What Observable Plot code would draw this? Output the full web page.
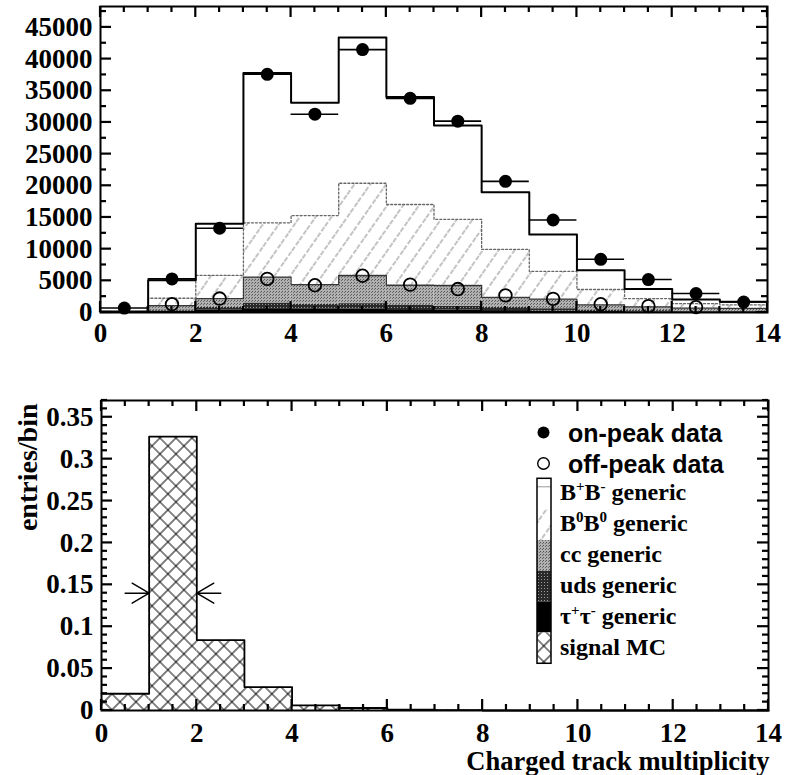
<!DOCTYPE html>
<html><head><meta charset="utf-8">
<script src="https://cdn.jsdelivr.net/npm/d3@7"></script>
<script src="https://cdn.jsdelivr.net/npm/@observablehq/plot@0.6"></script>
<style>
body{margin:0;background:#fff}
#chart{position:relative;width:786px;height:775px;overflow:hidden}
#chart svg{display:block}
</style></head><body>
<svg width="0" height="0" style="position:absolute">
<defs>
 <pattern id="hatchB0" patternUnits="userSpaceOnUse" width="13" height="13" patternTransform="rotate(35)">
   <rect width="13" height="13" fill="white"/>
   <line x1="6" y1="0" x2="6" y2="13" stroke="#7a7a7a" stroke-width="0.9" stroke-dasharray="5 2"/>
 </pattern>
 <pattern id="ccDots" patternUnits="userSpaceOnUse" width="3" height="3">
   <rect width="3" height="3" fill="#b0b0b0"/>
   <rect x="0" y="0" width="1" height="1" fill="#555"/>
   <rect x="2" y="1" width="1" height="1" fill="#6a6a6a"/>
 </pattern>
 <pattern id="udsDots" patternUnits="userSpaceOnUse" width="3" height="3">
   <rect width="3" height="3" fill="#2a2a2a"/>
   <rect x="1" y="1" width="1" height="1" fill="#9a9a9a"/>
 </pattern>
 <pattern id="cross" patternUnits="userSpaceOnUse" width="11.31" height="11.31" patternTransform="rotate(45)">
   <rect width="11.31" height="11.31" fill="white"/>
   <path d="M0,5.655H11.31M5.655,0V11.31" stroke="black" stroke-width="1"/>
 </pattern>
</defs></svg>
<div id="chart"></div>
<script>
// ---------- data ----------
const bins = [0,1,2,3,4,5,6,7,8,9,10,11,12,13];            // lower bin edges, width 1
const tauGeneric  = [10, 200, 350, 600, 500, 550, 450, 380, 300, 220, 150, 100, 70, 60];
const udsGeneric  = [20, 200, 450, 900, 800, 850, 750, 620, 500, 380, 250, 200, 130, 120];
const ccGeneric   = [30, 700, 1400, 4070, 3100, 4440, 3100, 3260, 1600, 1500, 800, 600, 500, 470];
const b0b0Generic = [40, 1150, 3650, 8580, 10900, 14560, 12750, 10440, 7550, 4400, 2430, 1300, 700, 550];
const bpbmGeneric = [50, 2850, 8150, 23650, 17800, 23000, 16950, 14800, 9050, 5800, 3020, 1500, 650, 500];
const onPeak  = [700, 5300, 13300, 37600, 31300, 41500, 33800, 30200, 20700, 14600, 8400, 5200, 3000, 1650];
const offPeak = [null, 1300, 2200, 5300, 4300, 5800, 4400, 3700, 2700, 2150, 1300, 1000, 850, null];
const signalMC = [0.020, 0.327, 0.084, 0.028, 0.006, 0.003, 0.001, 0.0005, 0, 0, 0, 0, 0, 0];
const arrowTip = [1, 2];        // FWHM markers on the signal peak
const arrowY   = [0.14, 0.14];
const arrowDir = [90, -90];     // pointing right / left
const xTicks = [0, 2, 4, 6, 8, 10, 12, 14];
const topYTicks = [0, 5000, 10000, 15000, 20000, 25000, 30000, 35000, 40000, 45000];
const botYTicks = [0, 0.05, 0.1, 0.15, 0.2, 0.25, 0.3, 0.35];
const legendLabels = ["on-peak data", "off-peak data"];

// ---------- styling ----------
const serif = "'Liberation Serif','Times New Roman',serif";
const sans = "'Liberation Sans',Arial,sans-serif";
const W = 786;
const comps = [tauGeneric, udsGeneric, ccGeneric, b0b0Generic, bpbmGeneric];
const compFill = ["black", "url(#udsDots)", "url(#ccDots)", "url(#hatchB0)", "white"];

const arrowShape = {draw(context, l) {
  context.moveTo(0, 0); context.lineTo(0, -l);
  context.moveTo(-10, -l + 17); context.lineTo(0, -l); context.lineTo(10, -l + 17);
}};

// cumulative stacking
const cum = [];
comps.forEach((arr, k) => {
  cum.push(arr.map((v, i) => (k ? cum[k - 1][i] : 0) + v));
});
const stepData = (vals) => bins.map((b, i) => ({x: b, y: vals[i]})).concat([{x: bins[bins.length-1] + 1, y: vals[vals.length-1]}]);

function labelAxes(yTicksMajor, fmt, padY) {
  return [
    Plot.axisX({anchor: "bottom", ticks: xTicks, tickSize: 0, tickPadding: padY, label: null,
      tickFormat: d => String(d), fontSize: 27, fontWeight: "bold", fontFamily: serif}),
    Plot.axisY({anchor: "left", ticks: yTicksMajor, tickSize: 0, tickPadding: 8, label: null,
      tickFormat: fmt, fontSize: 27, fontWeight: "bold", fontFamily: serif}),
    Plot.frame({stroke: "black", strokeWidth: 2})
  ];
}

// inward ticks on all four sides, placed with the plot's own scales
function addTicks(svg, yMajor, yMinorStep, yMax) {
  const sx = svg.scale("x"), sy = svg.scale("y");
  const X0 = sx.apply(0), X1 = sx.apply(14), Y0 = sy.apply(0), Y1 = sy.apply(yMax);
  const g = d3.select(svg).append("g").attr("class", "frame-ticks");
  const ln = (a, b, c, d) => g.append("path").attr("d", `M${a},${b}L${c},${d}`)
    .attr("stroke", "black").attr("stroke-width", 2.2).attr("fill", "none");
  d3.range(0, 14 + 1e-9, 0.5).forEach(v => {
    const L = xTicks.some(t => Math.abs(t - v) < 1e-9) ? 11 : 6;
    const px = sx.apply(v);
    ln(px, Y0, px, Y0 - L); ln(px, Y1, px, Y1 + L);
  });
  d3.range(0, yMax + 1e-9, yMinorStep).forEach(v => {
    const L = yMajor.some(t => Math.abs(t - v) < yMinorStep / 10) ? 11 : 6;
    const py = sy.apply(v);
    ln(X0, py, X0 + L, py); ln(X1, py, X1 - L, py);
  });
}

// ---------- top panel ----------
const topMarks = [];
comps.forEach((arr, k) => {
  topMarks.push(Plot.rect(bins, {
    x1: b => b, x2: b => b + 1,
    y1: (b, i) => (k ? cum[k - 1][i] : 0), y2: (b, i) => cum[k][i],
    fill: compFill[k]
  }));
});
topMarks.push(
  Plot.line(stepData(cum[2]), {x: "x", y: "y", curve: "step-after", stroke: "#333", strokeWidth: 1.3, strokeDasharray: "2,1"}),
  Plot.line(stepData(cum[3]), {x: "x", y: "y", curve: "step-after", stroke: "#666", strokeWidth: 1.3, strokeDasharray: "2,2"}),
  Plot.line(stepData(cum[4]), {x: "x", y: "y", curve: "step-after", stroke: "black", strokeWidth: 2}),
  Plot.ruleY(bins, {y: (b, i) => onPeak[i], x1: b => b, x2: b => b + 1, stroke: "black", strokeWidth: 1.6}),
  Plot.dot(bins.filter((b, i) => offPeak[i] != null), {x: b => b + 0.5, y: b => offPeak[b], r: 6.3, fill: "none", stroke: "black", strokeWidth: 1.8}),
  Plot.dot(bins, {x: b => b + 0.5, y: (b, i) => onPeak[i], r: 6.5, fill: "black"}),
  ...labelAxes(topYTicks, d => String(d), 10)
);
const topPlot = Plot.plot({
  width: W, height: 350,
  marginLeft: 100, marginRight: 19, marginTop: 6, marginBottom: 38,
  x: {domain: [0, 14]}, y: {domain: [0, 48300]},
  style: {fontFamily: serif, background: "white", overflow: "visible"},
  marks: topMarks
});

// ---------- bottom panel ----------
const botPlot = Plot.plot({
  width: W, height: 425,
  marginLeft: 101, marginRight: 18, marginTop: 50, marginBottom: 65,
  x: {domain: [0, 14]}, y: {domain: [0, 0.37]},
  style: {fontFamily: serif, background: "white", overflow: "visible"},
  marks: [
    Plot.rect(bins, {x1: b => b, x2: b => b + 1, y1: 0, y2: (b, i) => signalMC[i], fill: "url(#cross)"}),
    Plot.line(stepData(signalMC), {x: "x", y: "y", curve: "step-after", stroke: "black", strokeWidth: 1.8}),
    Plot.vector(arrowTip, {x: d => d, y: (d, i) => arrowY[i], rotate: (d, i) => arrowDir[i], length: 24,
      anchor: "end", shape: arrowShape, stroke: "black", strokeWidth: 1.4}),
    ...labelAxes(botYTicks, d => String(+d.toFixed(2)), 12),
    Plot.text(["Charged track multiplicity"], {frameAnchor: "bottom-right", textAnchor: "end", lineAnchor: "middle",
      dy: 51, dx: 1, fontSize: 26.5, fontWeight: "bold", fontFamily: serif, fill: "black"}),
    Plot.text(["entries/bin"], {frameAnchor: "top-left", textAnchor: "end", lineAnchor: "middle", rotate: -90,
      dx: -73, dy: 3, fontSize: 28, fontWeight: "bold", fontFamily: serif, fill: "black"})
  ]
});

const chart = document.getElementById("chart");
chart.appendChild(topPlot);
chart.appendChild(botPlot);
addTicks(topPlot, topYTicks, 2500, 48300);
addTicks(botPlot, botYTicks, 0.01, 0.37);

// ---------- legend (inside the bottom panel) ----------
const g = d3.select(botPlot).append("g").attr("class", "legend").attr("text-anchor", "start");
const oy = 350; // bottom svg top in page coords
const lx = 543.5, tx = 568;
g.append("circle").attr("cx", lx).attr("cy", 432.5 - oy).attr("r", 6).attr("fill", "black");
g.append("circle").attr("cx", lx).attr("cy", 463.5 - oy).attr("r", 5.8).attr("fill", "white").attr("stroke", "black").attr("stroke-width", 1.4);
[441.5, 472.5].forEach((yb, i) => {
  g.append("text").attr("x", tx).attr("y", yb - oy).text(legendLabels[i])
    .attr("text-anchor", "start").attr("font-family", sans).attr("font-weight", "bold").attr("font-size", 25);
});
const boxX = 537, boxW = 14, boxTop = 478.3 - oy, segH = 30.83;
const legFills = ["white", "url(#hatchB0)", "url(#ccDots)", "url(#udsDots)", "black", "url(#cross)"];
legFills.forEach((f, i) => {
  g.append("rect").attr("x", boxX).attr("y", boxTop + i * segH).attr("width", boxW).attr("height", segH).attr("fill", f);
});
g.append("line").attr("x1", boxX).attr("x2", boxX + boxW).attr("y1", boxTop + 8.5).attr("y2", boxTop + 8.5).attr("stroke", "#999").attr("stroke-width", 1);
g.append("rect").attr("x", boxX).attr("y", boxTop).attr("width", boxW).attr("height", segH * 6)
  .attr("fill", "none").attr("stroke", "black").attr("stroke-width", 1.5);
const serifLabels = [
  [["B", 0], ["+", 1], ["B", 0], ["-", 1], [" generic", 0]],
  [["B", 0], ["0", 1], ["B", 0], ["0", 1], [" generic", 0]],
  [["cc generic", 0]],
  [["uds generic", 0]],
  [["τ", 0], ["+", 1], ["τ", 0], ["-", 1], [" generic", 0]],
  [["signal MC", 0]]
];
const baselines = [500, 530.5, 561.5, 593, 624, 655];
serifLabels.forEach((parts, i) => {
  const t = g.append("text").attr("x", 560).attr("y", baselines[i] - oy).attr("text-anchor", "start")
    .attr("font-family", serif).attr("font-weight", "bold").attr("font-size", 24);
  let prevSup = false;
  parts.forEach(([s, sup]) => {
    const ts = t.append("tspan").text(s);
    if (sup && !prevSup) ts.attr("dy", -9).attr("font-size", 15);
    else if (sup) ts.attr("font-size", 15);
    if (!sup && prevSup) ts.attr("dy", 9);
    prevSup = !!sup;
  });
});
</script>
</body></html>
